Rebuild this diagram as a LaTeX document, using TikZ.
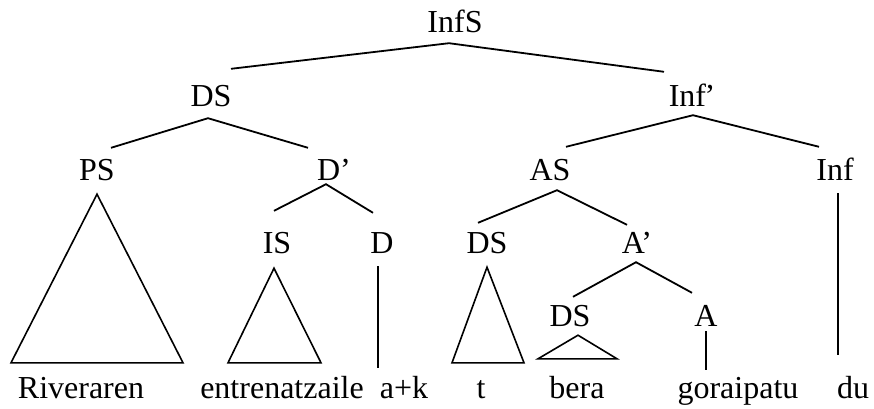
\documentclass[tikz,border=0pt]{standalone}
\usepackage{fontspec}
\setmainfont{Liberation Serif}
\usetikzlibrary{calc}
\tikzset{
  lbl/.style={anchor=base, inner sep=0pt, text height=21pt, text depth=0pt, font=\fontsize{32}{38}\selectfont},
  edge/.style={line width=1.8pt},
  tri/.style={line width=1.6pt, line join=miter}
}
\begin{document}
\begin{tikzpicture}[x=1pt,y=-1pt]
\useasboundingbox (0,0) rectangle (874,408);
% labels
\node[lbl] (InfS) at (455,32) {InfS};
\node[lbl] (DS) at (211,106) {DS};
\node[lbl] (Infp) at (692,106) {Inf\kern-1.5pt’};
\node[lbl] (PS) at (97,180) {PS};
\node[lbl] (Dp) at (334,180) {D’};
\node[lbl] (AS) at (550,180) {AS};
\node[lbl] (Inf) at (835,180) {Inf};
\node[lbl] (IS) at (277,253) {IS};
\node[lbl] (D) at (382,253) {D};
\node[lbl] (DSb) at (487,253) {DS};
\node[lbl] (Ap) at (637,253) {A’};
\node[lbl] (DSc) at (570,326) {DS};
\node[lbl] (A) at (706,326) {A};
% words
\node[lbl] (w1) at (81,398) {Riveraren};
\node[lbl] (w2) at (282,398) {entrenatzaile};
\node[lbl] (w3) at (404,398) {a+k};
\node[lbl] (w4) at (481,398) {t};
\node[lbl] (w5) at (577,398) {bera};
\node[lbl] (w6) at (738,398) {goraipatu};
\node[lbl] (w7) at (853,398) {du};
% branches
\draw[edge] ($(DS.north)+(20,-16)$) -- ($(InfS.south)+(-6,11)$) -- ($(Infp.north)+(-28,-13)$);
\draw[edge] ($(PS.north)+(14,-11)$) -- ($(DS.south)+(-3,12)$) -- ($(Dp.north)+(-26,-11)$);
\draw[edge] ($(AS.north)+(16,-12)$) -- ($(Infp.south)+(1,9)$) -- ($(Inf.north)+(-16,-12)$);
\draw[edge] ($(IS.north)+(-3,-21)$) -- ($(Dp.south)+(-8,4)$) -- ($(D.north)+(-9,-19)$);
\draw[edge] ($(DSb.north)+(-9,-9)$) -- ($(AS.south)+(7,10)$) -- ($(Ap.north)+(-10,-7)$);
\draw[edge] ($(DSc.north)+(3,-8)$) -- ($(Ap.south)+(-1,9)$) -- ($(A.north)+(-14,-12)$);
% triangles
\draw[tri] ($(PS.south)+(0,14)$) -- ($(w1.north)+(-70,-14)$) -- ($(w1.north)+(102,-14)$) -- cycle;
\draw[tri] ($(IS.south)+(-3,15)$) -- ($(w2.north)+(-54,-14)$) -- ($(w2.north)+(39,-14)$) -- cycle;
\draw[tri] ($(DSb.south)+(0,14)$) -- ($(w4.north)+(-29,-14)$) -- ($(w4.north)+(43,-14)$) -- cycle;
\draw[tri] ($(DSc.south)+(8,9)$) -- ($(w5.north)+(-39,-18)$) -- ($(w5.north)+(40,-18)$) -- cycle;
% unary lines
\draw[edge] ($(D.south)+(-4,13)$) -- ($(w3.north)+(-26,-9)$);
\draw[edge] ($(A.south)+(0,5)$) -- ($(w6.north)+(-32,-7)$);
\draw[edge] ($(Inf.south)+(3,13)$) -- ($(w7.north)+(-15,-22)$);
\end{tikzpicture}
\end{document}
